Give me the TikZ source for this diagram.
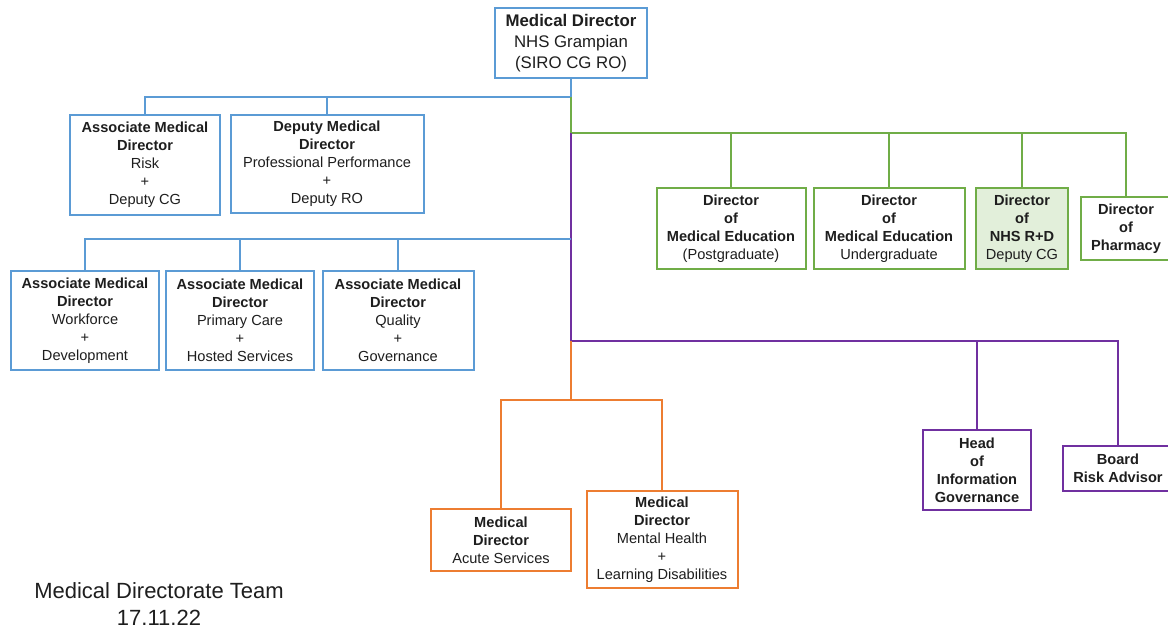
\documentclass[tikz,border=0pt]{standalone}
\usepackage{fontspec}
\setmainfont{Liberation Sans}
\definecolor{cblue}{HTML}{5B9BD5}
\definecolor{cgreen}{HTML}{70AD47}
\definecolor{cpurple}{HTML}{7030A0}
\definecolor{corange}{HTML}{ED7D31}
\definecolor{cfill}{HTML}{E2EFDA}
\definecolor{ctext}{HTML}{1E1E1E}
\tikzset{
  box/.style={draw, line width=2pt, fill=white, align=center, inner sep=0pt,
    text=ctext, font=\fontsize{14.6}{18}\selectfont},
  conn/.style={line width=2pt},
}
\begin{document}
\begin{tikzpicture}[x=1pt,y=-1pt]
\useasboundingbox[fill=white] (0,0) rectangle (1168,629);
% junctions
\coordinate (j1) at (571,97);
\coordinate (j2) at (571,133);
\coordinate (j3) at (571,239);
\coordinate (j4) at (571,341);
\coordinate (j5) at (571,400);

% boxes
\node[box, draw=cblue, minimum width=152, minimum height=70, font=\fontsize{16.8}{21}\selectfont] (md) at (571,43)
  {\textbf{Medical Director}\\NHS Grampian\\(SIRO CG RO)};
\node[box, draw=cblue, minimum width=150, minimum height=100] (amdr) at (145,165)
  {\textbf{Associate Medical}\\\textbf{Director}\\Risk\\+\\Deputy CG};
\node[box, draw=cblue, minimum width=193, minimum height=98] (dmd) at (327,164)
  {\textbf{Deputy Medical}\\\textbf{Director}\\Professional Performance\\+\\Deputy RO};
\node[box, draw=cblue, minimum width=148, minimum height=99] (amdw) at (85,320.5)
  {\textbf{Associate Medical}\\\textbf{Director}\\Workforce\\+\\Development};
\node[box, draw=cblue, minimum width=148, minimum height=99] (amdp) at (240,320.5)
  {\textbf{Associate Medical}\\\textbf{Director}\\Primary Care\\+\\Hosted Services};
\node[box, draw=cblue, minimum width=151, minimum height=99] (amdq) at (398,320.5)
  {\textbf{Associate Medical}\\\textbf{Director}\\Quality\\+\\Governance};
\node[box, draw=cgreen, minimum width=149, minimum height=81] (pg) at (731,228.5)
  {\textbf{Director}\\\textbf{of}\\\textbf{Medical Education}\\(Postgraduate)};
\node[box, draw=cgreen, minimum width=151, minimum height=81] (ug) at (889,228.5)
  {\textbf{Director}\\\textbf{of}\\\textbf{Medical Education}\\Undergraduate};
\node[box, draw=cgreen, fill=cfill, minimum width=92, minimum height=81] (rd) at (1022,228.5)
  {\textbf{Director}\\\textbf{of}\\\textbf{NHS R+D}\\Deputy CG};
\node[box, draw=cgreen, minimum width=90, minimum height=63] (ph) at (1126,228.5)
  {\textbf{Director}\\\textbf{of}\\\textbf{Pharmacy}};
\node[box, draw=cpurple, minimum width=108, minimum height=80] (ig) at (977,470)
  {\textbf{Head}\\\textbf{of}\\\textbf{Information}\\\textbf{Governance}};
\node[box, draw=cpurple, minimum width=110, minimum height=45] (bra) at (1118,468.5)
  {\textbf{Board}\\\textbf{Risk Advisor}};
\node[box, draw=corange, minimum width=140, minimum height=62] (acute) at (501,540)
  {\textbf{Medical}\\\textbf{Director}\\Acute Services};
\node[box, draw=corange, minimum width=151, minimum height=97] (mh) at (662,539.5)
  {\textbf{Medical}\\\textbf{Director}\\Mental Health\\+\\Learning Disabilities};

% connectors
\draw[conn, cblue] (md.south) -- (j1);
\draw[conn, cblue] (j1) -| (amdr.north);
\draw[conn, cblue] (j1) -| (dmd.north);
\draw[conn, cgreen] (j1) -- (j2);
\draw[conn, cgreen] (j2) -| (pg.north);
\draw[conn, cgreen] (j2) -| (ug.north);
\draw[conn, cgreen] (j2) -| (rd.north);
\draw[conn, cgreen] (j2) -| (ph.north);
\draw[conn, cpurple] (j2) -- (j4);
\draw[conn, cblue] (j3) -| (amdw.north);
\draw[conn, cblue] (j3) -| (amdp.north);
\draw[conn, cblue] (j3) -| (amdq.north);
\draw[conn, cpurple] (j4) -| (ig.north);
\draw[conn, cpurple] (j4) -| (bra.north);
\draw[conn, corange] (j4) -- (j5);
\draw[conn, corange] (j5) -| (acute.north);
\draw[conn, corange] (j5) -| (mh.north);

% caption
\node[align=center, text=ctext, inner sep=0pt, font=\fontsize{22}{27}\selectfont] (cap) at (159,604)
  {Medical Directorate Team\\17.11.22};
\end{tikzpicture}
\end{document}
